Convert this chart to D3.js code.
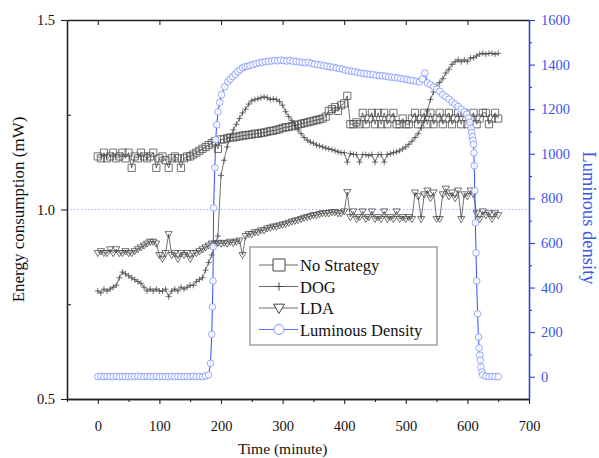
<!DOCTYPE html>
<html>
<head>
<meta charset="utf-8">
<script src="https://cdn.jsdelivr.net/npm/d3@7"></script>
<style>
  body { margin: 0; background: #fff; }
  svg { display: block; }
  svg text { font-family: "Liberation Serif", Tinos, "Times New Roman", "DejaVu Serif", serif; }
</style>
</head>
<body>
<svg id="chart" width="599" height="458"></svg>
<script>
/* DATA */
// energy series are sampled every 5 minutes, 0..650
const minutes = d3.range(0, 651, 5);

const noStrategy = [
  1.14, 1.135, 1.15, 1.135, 1.14, 1.15, 1.135, 1.14, 1.15, 1.135,      // 0
  1.15, 1.11, 1.14, 1.135, 1.15, 1.14, 1.135, 1.14, 1.15, 1.11,        // 50
  1.135, 1.14, 1.13, 1.11, 1.135, 1.14, 1.135, 1.11, 1.135, 1.14,      // 100
  1.14, 1.145, 1.15, 1.155, 1.16, 1.165, 1.17, 1.175, 1.18, 1.16,      // 150
  1.185, 1.185, 1.188, 1.19, 1.19, 1.192, 1.193, 1.195, 1.196, 1.197,  // 200
  1.198, 1.2, 1.2, 1.202, 1.203, 1.205, 1.207, 1.208, 1.21, 1.212,     // 250
  1.215, 1.217, 1.218, 1.22, 1.222, 1.224, 1.226, 1.228, 1.23, 1.232,  // 300
  1.234, 1.236, 1.238, 1.24, 1.245, 1.26, 1.265, 1.27, 1.26, 1.275,    // 350
  1.28, 1.30, 1.225, 1.225, 1.23, 1.225, 1.255, 1.225, 1.24, 1.255,    // 400
  1.225, 1.255, 1.225, 1.255, 1.225, 1.24, 1.255, 1.225, 1.225, 1.24,  // 450
  1.225, 1.225, 1.24, 1.255, 1.225, 1.24, 1.255, 1.225, 1.255, 1.225,  // 500
  1.24, 1.255, 1.225, 1.24, 1.255, 1.225, 1.24, 1.255, 1.225, 1.255,   // 550
  1.225, 1.24, 1.255, 1.225, 1.24, 1.255, 1.255, 1.225, 1.24, 1.255,   // 600
  1.24                                                                 // 650
];

const dog = [
  0.785, 0.78, 0.79, 0.785, 0.79, 0.795, 0.80, 0.82, 0.835, 0.83,      // 0
  0.825, 0.82, 0.815, 0.81, 0.805, 0.795, 0.785, 0.79, 0.785, 0.79,    // 50
  0.785, 0.785, 0.79, 0.77, 0.785, 0.79, 0.785, 0.795, 0.79, 0.795,    // 100
  0.80, 0.80, 0.81, 0.815, 0.82, 0.84, 0.86, 0.88, 0.905, 0.93,        // 150
  1.09, 1.13, 1.165, 1.19, 1.21, 1.225, 1.24, 1.255, 1.265, 1.278,     // 200
  1.287, 1.29, 1.292, 1.295, 1.297, 1.295, 1.29, 1.292, 1.29, 1.285,   // 250
  1.275, 1.258, 1.245, 1.235, 1.222, 1.21, 1.20, 1.19, 1.183, 1.178,   // 300
  1.175, 1.17, 1.168, 1.165, 1.162, 1.16, 1.158, 1.155, 1.152, 1.15,   // 350
  1.15, 1.125, 1.148, 1.145, 1.145, 1.125, 1.145, 1.145, 1.142, 1.145, // 400
  1.125, 1.145, 1.145, 1.125, 1.145, 1.147, 1.15, 1.152, 1.155, 1.16,  // 450
  1.165, 1.172, 1.18, 1.19, 1.20, 1.215, 1.235, 1.26, 1.29, 1.31,      // 500
  1.325, 1.335, 1.345, 1.36, 1.37, 1.383, 1.39, 1.395, 1.39, 1.395,    // 550
  1.39, 1.40, 1.40, 1.405, 1.41, 1.412, 1.41, 1.412, 1.412, 1.41,      // 600
  1.412                                                                // 650
];

const lda = [
  0.885, 0.89, 0.885, 0.885, 0.895, 0.885, 0.895, 0.885, 0.885, 0.89,  // 0
  0.885, 0.885, 0.89, 0.895, 0.90, 0.905, 0.91, 0.915, 0.915, 0.91,    // 50
  0.88, 0.87, 0.885, 0.935, 0.88, 0.885, 0.87, 0.885, 0.88, 0.885,     // 100
  0.87, 0.885, 0.885, 0.89, 0.895, 0.90, 0.905, 0.91, 0.91, 0.912,     // 150
  0.91, 0.912, 0.91, 0.915, 0.912, 0.915, 0.918, 0.88, 0.93, 0.935,    // 200
  0.935, 0.94, 0.94, 0.945, 0.945, 0.95, 0.952, 0.955, 0.955, 0.958,   // 250
  0.96, 0.962, 0.965, 0.968, 0.97, 0.972, 0.975, 0.978, 0.98, 0.982,   // 300
  0.985, 0.985, 0.988, 0.99, 0.99, 0.99, 0.993, 0.993, 0.99, 0.99,     // 350
  0.995, 1.046, 0.98, 0.995, 0.975, 0.98, 0.995, 0.975, 0.98, 0.995,   // 400
  0.975, 0.98, 0.975, 0.995, 0.975, 0.98, 0.975, 0.995, 0.975, 0.98,   // 450
  0.975, 0.98, 0.975, 1.045, 1.035, 0.975, 1.04, 1.05, 1.03, 1.045,    // 500
  0.975, 0.975, 1.04, 1.055, 1.035, 1.045, 1.03, 1.05, 0.975, 1.04,    // 550
  1.035, 1.05, 1.04, 0.99, 0.975, 0.995, 0.985, 0.99, 0.975, 0.99,     // 600
  0.985                                                                // 650
];

// luminous density has its own (uneven) time stamps, denser at the steep rise and fall
const lumTime = [
  0, 5, 10, 15, 20, 25, 30, 35, 40, 45, 50, 55, 60, 65, 70, 75, 80, 85, 90, 95,
  100, 105, 110, 115, 120, 125, 130, 135, 140, 145, 150, 155, 160, 165, 170, 175,
  180, 183, 185, 186, 187, 187.5, 188, 190, 191.5, 193, 195, 198, 201, 206, 211, 215,
  219, 223, 227, 231, 235, 239, 243, 247, 252, 257, 262, 267, 272, 277, 282, 287,
  292, 297, 302, 307, 312, 317, 322, 327, 332, 337, 342, 347, 352, 357, 362, 367,
  372, 377, 382, 387, 392, 397, 402, 407, 412, 417, 422, 427, 432, 437, 442, 447,
  452, 457, 462, 467, 472, 477, 482, 487, 492, 497, 502, 507, 512, 517, 522, 527,
  531, 535, 540, 545, 550, 555, 560, 565, 570, 575, 580, 585, 590, 595, 599, 602,
  604, 606, 607, 608, 609, 610, 610.5, 611, 612, 613, 614, 615, 616.5, 618, 619, 620,
  621, 622, 623.5, 625, 630, 635, 640, 645, 650
];
const lumValue = [
  0, 2, 0, 1, 0, 0, 2, 0, 1, 0, 0, 1, 0, 2, 0, 0, 1, 0, 0, 2,
  0, 1, 0, 0, 2, 0, 1, 0, 0, 1, 0, 2, 0, 1, 0, 3,
  8, 60, 190, 313, 430, 583, 757, 937, 1063, 1130, 1188, 1230, 1265, 1300, 1323, 1335,
  1346, 1357, 1368, 1378, 1386, 1390, 1393, 1396, 1400, 1404, 1408, 1410, 1413, 1415, 1416, 1418,
  1417, 1420, 1418, 1416, 1418, 1415, 1414, 1412, 1410, 1408, 1410, 1405, 1402, 1400, 1398, 1395,
  1392, 1390, 1388, 1385, 1382, 1380, 1375, 1372, 1370, 1368, 1365, 1362, 1360, 1358, 1356, 1355,
  1352, 1350, 1350, 1348, 1345, 1344, 1342, 1340, 1338, 1335, 1333, 1330, 1328, 1325, 1322, 1335,
  1362, 1318, 1310, 1300, 1290, 1280, 1265, 1255, 1245, 1232, 1222, 1212, 1200, 1188, 1177, 1160,
  1141, 1115, 1095, 1077, 1060, 1042, 1004, 946, 834, 690, 555, 430, 282, 178, 129, 97,
  74, 44, 21, 8, 2, 0, 1, 0, 0
];

const legendLabels = ["No Strategy", "DOG", "LDA", "Luminous Density"];
const leftTicks = [0.5, 1.0, 1.5];
const leftMinor = [0.75, 1.25];
const xTicks = [0, 100, 200, 300, 400, 500, 600, 700];
const xMinor = [-50, 50, 150, 250, 350, 450, 550, 650];
const rightTicks = [0, 200, 400, 600, 800, 1000, 1200, 1400, 1600];
const rightMinor = [100, 300, 500, 700, 900, 1100, 1300, 1500];

/* LAYOUT */
const margin = { top: 20, right: 70, bottom: 59, left: 67 };
const W = 599, H = 458;
const plotR = W - margin.right, plotB = H - margin.bottom;

const blueAxis = "#2a40dc", blueText = "#3a55ee", blueLine = "#2e50ff", blueMark = "#7d93fa";
const ink = "#222";

const x = d3.scaleLinear().domain([-50, 700]).range([margin.left, plotR]);
const y = d3.scaleLinear().domain([0.5, 1.5]).range([plotB, margin.top]);
const yR = d3.scaleLinear().domain([-100, 1600]).range([plotB, margin.top]);

const svg = d3.select("#chart");

// dotted reference line at 1.0
svg.append("line")
  .attr("x1", margin.left).attr("x2", plotR)
  .attr("y1", y(1)).attr("y2", y(1))
  .attr("stroke", "#aab6f2").attr("stroke-width", 1)
  .attr("stroke-dasharray", "1.5,2");

/* MARKER SHAPES */
const squarePath = s => `M${-s},${-s}H${s}V${s}H${-s}Z`;
const plusPath = s => `M${-s},0H${s}M0,${-s}V${s}`;
const triPath = s => `M${-s},${-s * 0.7}H${s}L0,${s}Z`;

const energySeries = [
  { name: legendLabels[0], values: noStrategy, shape: squarePath(3.6), legendShape: squarePath(6) },
  { name: legendLabels[1], values: dog, shape: plusPath(3), legendShape: plusPath(4) },
  { name: legendLabels[2], values: lda, shape: triPath(3.6), legendShape: triPath(5.5) }
];

const line = d3.line().x(d => x(d.t)).y(d => y(d.v));

energySeries.forEach(s => {
  const pts = minutes.map((t, i) => ({ t: t, v: s.values[i] }));
  const g = svg.append("g");
  g.append("path")
    .attr("d", line(pts))
    .attr("fill", "none").attr("stroke", "#333").attr("stroke-width", 0.7);
  g.selectAll("path.m")
    .data(pts)
    .join("path")
    .attr("class", "m")
    .attr("d", s.shape)
    .attr("transform", d => `translate(${x(d.t)},${y(d.v)})`)
    .attr("fill", "none")
    .attr("stroke", "#444")
    .attr("stroke-width", 0.75);
});

// luminous density on the right axis, drawn on top
const lumPts = lumTime.map((t, i) => ({ t: t, v: lumValue[i] }));
const lumLine = d3.line().x(d => x(d.t)).y(d => yR(d.v));
svg.append("path")
  .attr("d", lumLine(lumPts))
  .attr("fill", "none").attr("stroke", blueLine).attr("stroke-width", 1);
svg.append("g").selectAll("circle")
  .data(lumPts)
  .join("circle")
  .attr("cx", d => x(d.t)).attr("cy", d => yR(d.v))
  .attr("r", 3.3)
  .attr("fill", "#fff").attr("fill-opacity", 0.85)
  .attr("stroke", blueMark).attr("stroke-width", 0.8);

/* AXES */
function styleAxis(g, color) {
  g.attr("font-family", null);
  g.selectAll("path.domain").attr("stroke", color).attr("stroke-width", 1.3);
  g.selectAll(".tick line").attr("stroke", color).attr("stroke-width", 1.1);
  g.selectAll(".tick text").attr("fill", color === ink ? "#111" : blueText)
    .attr("font-size", 14.5);
}

// bottom
svg.append("g").attr("transform", `translate(0,${plotB})`)
  .call(d3.axisBottom(x).tickValues(xMinor).tickSize(3).tickFormat("").tickSizeOuter(0))
  .call(g => styleAxis(g, ink));
svg.append("g").attr("transform", `translate(0,${plotB})`)
  .call(d3.axisBottom(x).tickValues(xTicks).tickSize(5).tickPadding(17).tickSizeOuter(0))
  .call(g => styleAxis(g, ink));

// top (ticks inward)
svg.append("g").attr("transform", `translate(0,${margin.top})`)
  .call(d3.axisBottom(x).tickValues(xTicks).tickSize(5).tickFormat("").tickSizeOuter(0))
  .call(g => styleAxis(g, ink));

// left: labelled ticks outward, minor ticks inward
svg.append("g").attr("transform", `translate(${margin.left},0)`)
  .call(d3.axisLeft(y).tickValues(leftTicks).tickSize(6).tickPadding(6).tickFormat(d3.format(".1f")).tickSizeOuter(0))
  .call(g => styleAxis(g, ink));
svg.append("g").attr("transform", `translate(${margin.left},0)`)
  .call(d3.axisRight(y).tickValues(leftMinor).tickSize(4).tickFormat("").tickSizeOuter(0))
  .call(g => styleAxis(g, ink));

// right, blue
svg.append("g").attr("transform", `translate(${plotR},0)`)
  .call(d3.axisRight(yR).tickValues(rightMinor).tickSize(3).tickFormat("").tickSizeOuter(0))
  .call(g => styleAxis(g, blueAxis));
svg.append("g").attr("transform", `translate(${plotR},0)`)
  .call(d3.axisRight(yR).tickValues(rightTicks).tickSize(6).tickPadding(6).tickFormat(d3.format("d")).tickSizeOuter(0))
  .call(g => styleAxis(g, blueAxis));

/* TITLES */
svg.append("text")
  .attr("transform", `translate(24,${(margin.top + plotB) / 2}) rotate(-90)`)
  .attr("text-anchor", "middle").attr("font-size", 17).attr("fill", "#111")
  .text("Energy consumption (mW)");

svg.append("text")
  .attr("x", x(300)).attr("y", 454)
  .attr("text-anchor", "middle").attr("font-size", 15.5).attr("fill", "#111")
  .text("Time (minute)");

svg.append("text")
  .attr("transform", `translate(583,218) rotate(90)`)
  .attr("text-anchor", "middle").attr("font-size", 18.5).attr("fill", blueText)
  .text("Luminous density");

/* LEGEND */
const legend = svg.append("g").attr("transform", "translate(250,247)");
legend.append("rect")
  .attr("width", 187).attr("height", 98)
  .attr("fill", "#fff").attr("stroke", "#777").attr("stroke-width", 1);

const legendRows = energySeries.map(s => ({ name: s.name, shape: s.legendShape, color: "#444", lineColor: "#444" }))
  .concat([{ name: legendLabels[3], circle: true, color: blueMark, lineColor: blueLine }]);

legendRows.forEach((r, i) => {
  const ry = 18 + i * 21.5;
  const row = legend.append("g").attr("transform", `translate(0,${ry})`);
  row.append("line").attr("x1", 9).attr("x2", 48).attr("stroke", r.lineColor).attr("stroke-width", 0.8);
  if (r.circle) {
    row.append("circle").attr("cx", 29).attr("r", 5).attr("fill", "#fff").attr("stroke", r.color).attr("stroke-width", 1);
  } else {
    row.append("path").attr("d", r.shape).attr("transform", "translate(29,0)")
      .attr("fill", "#fff").attr("stroke", r.color).attr("stroke-width", 1);
  }
  row.append("text").attr("x", 50).attr("y", 6)
    .attr("font-size", 16.5).attr("fill", "#111").text(r.name);
});
</script>
</body>
</html>
